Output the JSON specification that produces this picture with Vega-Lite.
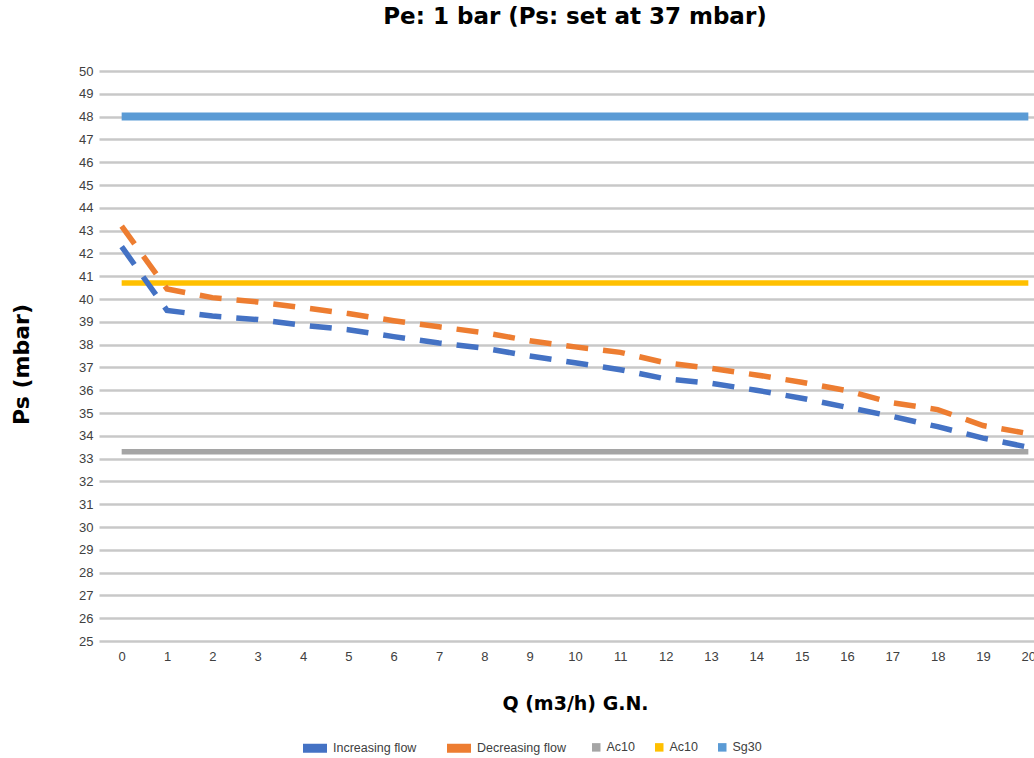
{
  "$schema": "https://vega.github.io/schema/vega-lite/v6.json",
  "width": 952,
  "height": 570,
  "autosize": "none",
  "padding": {"left": 99, "top": 71, "right": 0, "bottom": 117},
  "background": "white",
  "title": {
    "text": "Pe: 1 bar (Ps: set at 37 mbar)",
    "anchor": "middle",
    "font": "DejaVu Sans",
    "fontWeight": "bold",
    "fontSize": 23,
    "color": "#000000",
    "offset": 36
  },
  "config": {
    "view": {"stroke": null},
    "axis": {
      "labelFont": "Liberation Sans",
      "labelFontSize": 13,
      "labelColor": "#404040",
      "labelOverlap": false,
      "titleFont": "DejaVu Sans",
      "titleFontWeight": "bold",
      "titleColor": "#000000",
      "domain": false,
      "ticks": false,
      "tickSize": 0
    },
    "legend": {
      "labelFont": "Liberation Sans",
      "labelFontSize": 12.5,
      "labelColor": "#404040",
      "orient": "none",
      "direction": "horizontal",
      "title": null
    }
  },
  "data": {
    "values": [
      {"series": "Ac10 min", "q": 0, "ps": 33.3},
      {"series": "Ac10 min", "q": 20, "ps": 33.3},
      {"series": "Ac10 max", "q": 0, "ps": 40.7},
      {"series": "Ac10 max", "q": 20, "ps": 40.7},
      {"series": "Sg30", "q": 0, "ps": 48},
      {"series": "Sg30", "q": 20, "ps": 48},
      {"series": "Increasing flow", "q": 0, "ps": 42.3},
      {"series": "Increasing flow", "q": 1, "ps": 39.5},
      {"series": "Increasing flow", "q": 2, "ps": 39.25},
      {"series": "Increasing flow", "q": 3, "ps": 39.1},
      {"series": "Increasing flow", "q": 4, "ps": 38.85},
      {"series": "Increasing flow", "q": 5, "ps": 38.65},
      {"series": "Increasing flow", "q": 6, "ps": 38.35},
      {"series": "Increasing flow", "q": 7, "ps": 38.07},
      {"series": "Increasing flow", "q": 8, "ps": 37.84},
      {"series": "Increasing flow", "q": 9, "ps": 37.5},
      {"series": "Increasing flow", "q": 10, "ps": 37.2},
      {"series": "Increasing flow", "q": 11, "ps": 36.9},
      {"series": "Increasing flow", "q": 12, "ps": 36.5},
      {"series": "Increasing flow", "q": 13, "ps": 36.3},
      {"series": "Increasing flow", "q": 14, "ps": 36.0},
      {"series": "Increasing flow", "q": 15, "ps": 35.65},
      {"series": "Increasing flow", "q": 16, "ps": 35.25},
      {"series": "Increasing flow", "q": 17, "ps": 34.85},
      {"series": "Increasing flow", "q": 18, "ps": 34.4},
      {"series": "Increasing flow", "q": 19, "ps": 33.9},
      {"series": "Increasing flow", "q": 20, "ps": 33.5},
      {"series": "Decreasing  flow", "q": 0, "ps": 43.2},
      {"series": "Decreasing  flow", "q": 1, "ps": 40.44},
      {"series": "Decreasing  flow", "q": 2, "ps": 40.06},
      {"series": "Decreasing  flow", "q": 3, "ps": 39.87},
      {"series": "Decreasing  flow", "q": 4, "ps": 39.62},
      {"series": "Decreasing  flow", "q": 5, "ps": 39.36},
      {"series": "Decreasing  flow", "q": 6, "ps": 39.05},
      {"series": "Decreasing  flow", "q": 7, "ps": 38.78},
      {"series": "Decreasing  flow", "q": 8, "ps": 38.52},
      {"series": "Decreasing  flow", "q": 9, "ps": 38.17},
      {"series": "Decreasing  flow", "q": 10, "ps": 37.9},
      {"series": "Decreasing  flow", "q": 11, "ps": 37.66},
      {"series": "Decreasing  flow", "q": 12, "ps": 37.2},
      {"series": "Decreasing  flow", "q": 13, "ps": 36.96},
      {"series": "Decreasing  flow", "q": 14, "ps": 36.67},
      {"series": "Decreasing  flow", "q": 15, "ps": 36.35},
      {"series": "Decreasing  flow", "q": 16, "ps": 35.98},
      {"series": "Decreasing  flow", "q": 17, "ps": 35.45},
      {"series": "Decreasing  flow", "q": 18, "ps": 35.15},
      {"series": "Decreasing  flow", "q": 19, "ps": 34.45},
      {"series": "Decreasing  flow", "q": 20, "ps": 34.1}
    ]
  },
  "encoding": {
    "x": {
      "field": "q",
      "type": "quantitative",
      "scale": {"domain": [-0.5, 20.5], "nice": false, "zero": false},
      "axis": {
        "values": [0,1,2,3,4,5,6,7,8,9,10,11,12,13,14,15,16,17,18,19,20],
        "grid": false,
        "labelPadding": 9,
        "title": "Q (m3/h) G.N.",
        "titleFontSize": 19,
        "titlePadding": 31
      }
    },
    "y": {
      "field": "ps",
      "type": "quantitative",
      "scale": {"domain": [25, 50], "nice": false, "zero": false},
      "axis": {
        "values": [25,26,27,28,29,30,31,32,33,34,35,36,37,38,39,40,41,42,43,44,45,46,47,48,49,50],
        "grid": true,
        "gridColor": "#c8c8c8",
        "gridWidth": 2.5,
        "labelPadding": 6,
        "title": "Ps (mbar)",
        "titleFontSize": 22,
        "titlePadding": 45,
        "titleY": 293
      }
    }
  },
  "layer": [
    {
      "transform": [{"filter": {"field": "series", "oneOf": ["Ac10 min", "Ac10 max", "Sg30"]}}],
      "encoding": {
        "color": {
          "field": "series",
          "type": "nominal",
          "scale": {"domain": ["Ac10 min", "Ac10 max", "Sg30"], "range": ["#a5a5a5", "#ffc000", "#5b9bd5"]},
          "legend": {
            "legendX": 491,
            "legendY": 670,
            "symbolType": "square",
            "symbolSize": 72,
            "symbolStrokeWidth": 0,
            "labelOffset": 4,
            "columnPadding": 18,
            "labelExpr": "indexof(datum.label, 'Ac10') == 0 ? 'Ac10' : datum.label",
            "encode": {
              "symbols": {
                "update": {
                  "fill": {"signal": "datum.value == 'Ac10 min' ? '#a5a5a5' : datum.value == 'Ac10 max' ? '#ffc000' : '#5b9bd5'"},
                  "strokeWidth": {"value": 0}
                }
              }
            }
          }
        }
      },
      "layer": [
        {
          "transform": [{"filter": {"field": "series", "oneOf": ["Ac10 min", "Ac10 max"]}}],
          "mark": {"type": "line", "strokeCap": "butt", "strokeWidth": 5.5}
        },
        {
          "transform": [{"filter": {"field": "series", "equal": "Sg30"}}],
          "mark": {"type": "line", "strokeCap": "butt", "strokeWidth": 8}
        }
      ]
    },
    {
      "transform": [{"filter": {"field": "series", "oneOf": ["Increasing flow", "Decreasing  flow"]}}],
      "mark": {"type": "line", "strokeWidth": 5.5, "strokeDash": [22, 15], "strokeCap": "butt"},
      "encoding": {
        "color": {
          "field": "series",
          "type": "nominal",
          "scale": {"domain": ["Increasing flow", "Decreasing  flow"], "range": ["#4472c4", "#ed7d31"]},
          "legend": {
            "legendX": 204,
            "legendY": 665,
            "symbolType": "M-1,-0.375H1V0.375H-1Z",
            "symbolSize": 576,
            "labelOffset": 6,
            "columnPadding": 30,
            "encode": {
              "symbols": {
                "update": {
                  "fill": {"signal": "datum.value == 'Increasing flow' ? '#4472c4' : '#ed7d31'"},
                  "strokeWidth": {"value": 0}
                }
              }
            }
          }
        }
      }
    }
  ],
  "resolve": {"scale": {"color": "independent"}}
}
